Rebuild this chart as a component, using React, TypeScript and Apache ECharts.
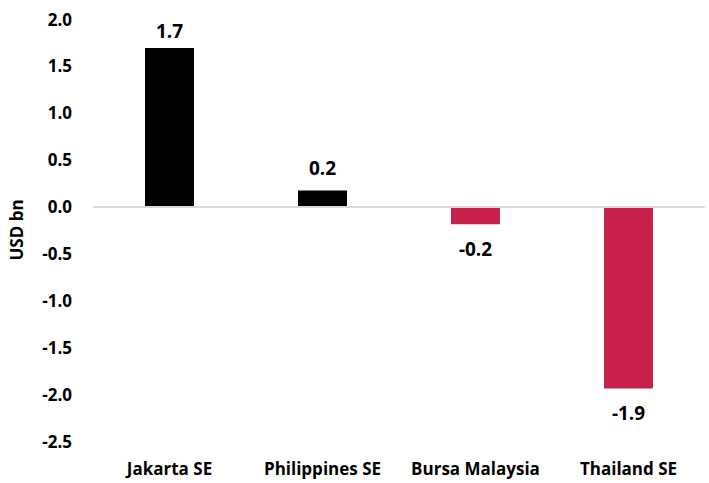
import React, { useEffect, useRef } from "react";
import * as echarts from "echarts";

const categories = ["Jakarta SE", "Philippines SE", "Bursa Malaysia", "Thailand SE"];
const values = [1.69, 0.17, -0.19, -1.94];
const yTicks = { min: -2.5, max: 2.0, interval: 0.5 };

// label offsets (style only)
const labelDistance = (v: number) => (v >= 1 ? 8 : v >= 0 ? 13 : 15);

export default function App() {
  const ref = useRef<HTMLDivElement>(null);
  useEffect(() => {
    if (!ref.current) return;
    const chart = echarts.init(ref.current, null, { renderer: "svg" });
    const font = "Open Sans";
    chart.setOption({
      animation: false,
      grid: { left: 92, right: 4, top: 19, bottom: 42 },
      xAxis: {
        type: "category",
        data: categories,
        position: "bottom",
        axisLine: { show: false },
        axisTick: { show: false },
        axisLabel: {
          color: "#000",
          fontFamily: font,
          fontWeight: "bold",
          fontSize: 17,
          margin: 19,
          interval: 0,
          hideOverlap: false,
        },
      },
      yAxis: {
        type: "value",
        min: yTicks.min,
        max: yTicks.max,
        interval: yTicks.interval,
        name: "USD bn",
        nameLocation: "middle",
        nameGap: 68,
        nameTextStyle: { color: "#000", fontFamily: font, fontWeight: "bold", fontSize: 17 },
        splitLine: { show: false },
        axisLine: { show: false },
        axisTick: { show: false },
        axisLabel: {
          color: "#000",
          fontFamily: font,
          fontWeight: "bold",
          fontSize: 17,
          margin: 21,
          formatter: (v: number) => v.toFixed(1),
        },
      },
      series: [
        {
          type: "bar",
          data: values.map((v) => ({
            value: v,
            itemStyle: { color: v >= 0 ? "#000000" : "#C8204A" },
            label: { position: v >= 0 ? "top" : "bottom", distance: labelDistance(v) },
          })),
          barWidth: "32%",
          label: {
            show: true,
            color: "#000",
            fontFamily: font,
            fontWeight: "bold",
            fontSize: 19,
            formatter: (p: any) => p.value.toFixed(1),
          },
          markLine: {
            silent: true,
            symbol: "none",
            label: { show: false },
            lineStyle: { color: "#d9d9d9", width: 2, type: "solid" },
            data: [{ yAxis: 0 }],
          },
        },
      ],
    });
    return () => chart.dispose();
  }, []);
  return (
    <div
      ref={ref}
      style={{ position: "absolute", top: 0, left: 0, width: 709, height: 483 }}
    />
  );
}
